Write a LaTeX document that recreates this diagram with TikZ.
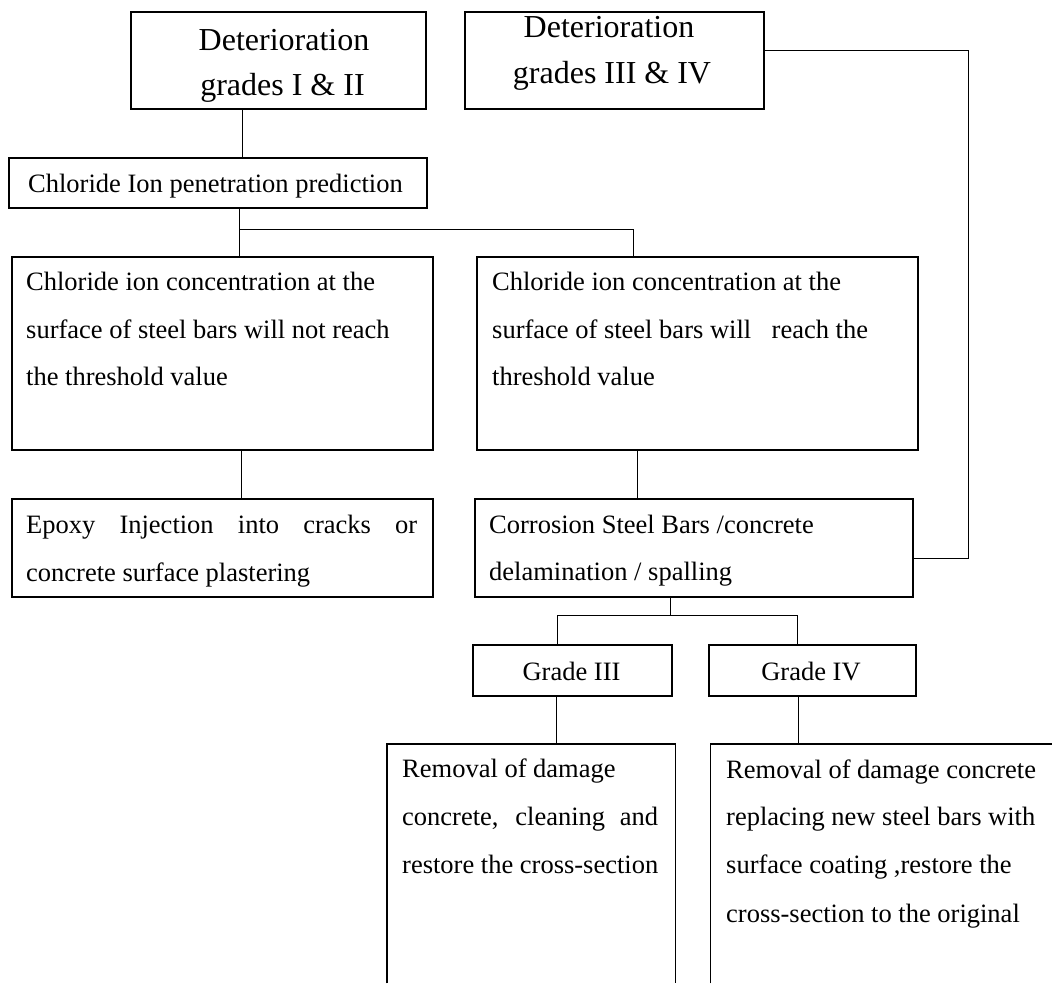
\documentclass[tikz,border=0pt]{standalone}
\usepackage{fontspec}
\setmainfont{Liberation Serif}
\usetikzlibrary{calc}
\begin{document}
\begin{tikzpicture}[x=1pt,y=-1pt,
  box/.style={draw, line width=1.5pt, inner sep=0pt, anchor=north west},
  openbox/.style={draw=none, inner sep=0pt, anchor=north west},
  frame/.style={line width=1.5pt},
  link/.style={line width=1pt},
  txt/.style={anchor=base west, inner sep=0pt, font=\fontsize{26.5}{32}\selectfont},
  ctxt/.style={anchor=base, inner sep=0pt, font=\fontsize{26.5}{32}\selectfont},
  big/.style={anchor=base, inner sep=0pt, font=\fontsize{32}{38}\selectfont}]
\useasboundingbox (0,0) rectangle (1052,983);

% ---- boxes ----
\node[box, minimum width=295pt, minimum height=97pt]  (g12)  at (130,11)  {};
\node[box, minimum width=299pt, minimum height=97pt]  (g34)  at (464,11)  {};
\node[box, minimum width=418pt, minimum height=50pt]  (pred) at (8,157)   {};
\node[box, minimum width=421pt, minimum height=193pt] (nr)   at (11,256)  {};
\node[box, minimum width=441pt, minimum height=193pt] (r)    at (476,256) {};
\node[box, minimum width=421pt, minimum height=98pt]  (epx)  at (11,498)  {};
\node[box, minimum width=438pt, minimum height=98pt]  (corr) at (474,498) {};
\node[box, minimum width=199pt, minimum height=51pt]  (g3)   at (472,644) {};
\node[box, minimum width=207pt, minimum height=51pt]  (g4)   at (708,644) {};
\node[openbox, minimum width=288pt, minimum height=239pt] (rm3) at (387,744) {};
\node[openbox, minimum width=360pt, minimum height=239pt] (rm4) at (710.5,744) {};
\draw[frame] (rm3.south west) -- (rm3.north west) -- (rm3.north east) -- (rm3.south east);
\draw[frame] (rm4.south west) -- (rm4.north west) -- (rm4.north east);

% ---- texts ----
\node[big] (t12a) at (284,50) {Deterioration};
\node[big] (t12b) at (282.5,95) {grades I \& II};
\node[big] (t34a) at (609,37) {Deterioration};
\node[big] (t34b) at (612,83) {grades III \& IV};

\node[txt] (tp) at (28,192) {Chloride Ion penetration prediction};

\node[txt] (tn1) at (26,290) {Chloride ion concentration at the};
\node[txt] (tn2) at (26,338) {surface of steel bars will not reach};
\node[txt] (tn3) at (26,385) {the threshold value};

\node[txt] (tr1) at (492,290) {Chloride ion concentration at the};
\node[txt] (tr2) at (492,338) {surface of steel bars will\hspace{20.5pt}reach the};
\node[txt] (tr3) at (492,385) {threshold value};

\node[txt] (te1) at (26,533) {\makebox[391pt][s]{Epoxy Injection into cracks or}};
\node[txt] (te2) at (26,581) {concrete surface plastering};

\node[txt] (tc1) at (489,533) {Corrosion Steel Bars /concrete};
\node[txt] (tc2) at (489,580) {delamination / spalling};

\node[ctxt] (tg3) at (571.5,680) {Grade III};
\node[ctxt] (tg4) at (811,680) {Grade IV};

\node[txt] (ta1) at (402,777) {Removal of damage};
\node[txt] (ta2) at (402,825) {\makebox[256pt][s]{concrete, cleaning and}};
\node[txt] (ta3) at (402,873) {restore the cross-section};

\node[txt] (tb1) at (726,778) {Removal of damage concrete};
\node[txt] (tb2) at (726,825) {replacing new steel bars with};
\node[txt] (tb3) at (726,873) {surface coating ,restore the};
\node[txt] (tb4) at (726,922) {cross-section to the original};

% ---- connectors ----
\coordinate (c1) at ([xshift=112pt]g12.south west);
\draw[link] (c1) -- (c1 |- pred.north);

\coordinate (c2) at ([xshift=231pt]pred.south west);
\coordinate (j1) at ($(c2)+(0,21)$);
\coordinate (c3) at ([xshift=157pt]r.north west);
\draw[link] (c2) -- (c2 |- nr.north);
\draw[link] (j1) -| (c3);

\coordinate (c4) at ([xshift=230pt]nr.south west);
\draw[link] (c4) -- (c4 |- epx.north);

\coordinate (c5) at ([xshift=161pt]r.south west);
\draw[link] (c5) -- (c5 |- corr.north);

\coordinate (c6) at ([xshift=196pt]corr.south west);
\coordinate (j2) at ($(c6)+(0,18)$);
\coordinate (c7) at ([xshift=85pt]g3.north west);
\coordinate (c8) at ([xshift=89pt]g4.north west);
\draw[link] (c6) -- (j2);
\draw[link] (c7) |- (j2) -| (c8);

\coordinate (c9) at ([xshift=84pt]g3.south west);
\draw[link] (c9) -- (c9 |- rm3.north);
\coordinate (c10) at ([xshift=90pt]g4.south west);
\draw[link] (c10) -- (c10 |- rm4.north);

\coordinate (cA) at ([yshift=-39pt]g34.north east);
\coordinate (cB) at ([yshift=-60pt]corr.north east);
\coordinate (k) at (968,558);
\draw[link] (cA) -| (k) -- (cB);
\end{tikzpicture}
\end{document}
